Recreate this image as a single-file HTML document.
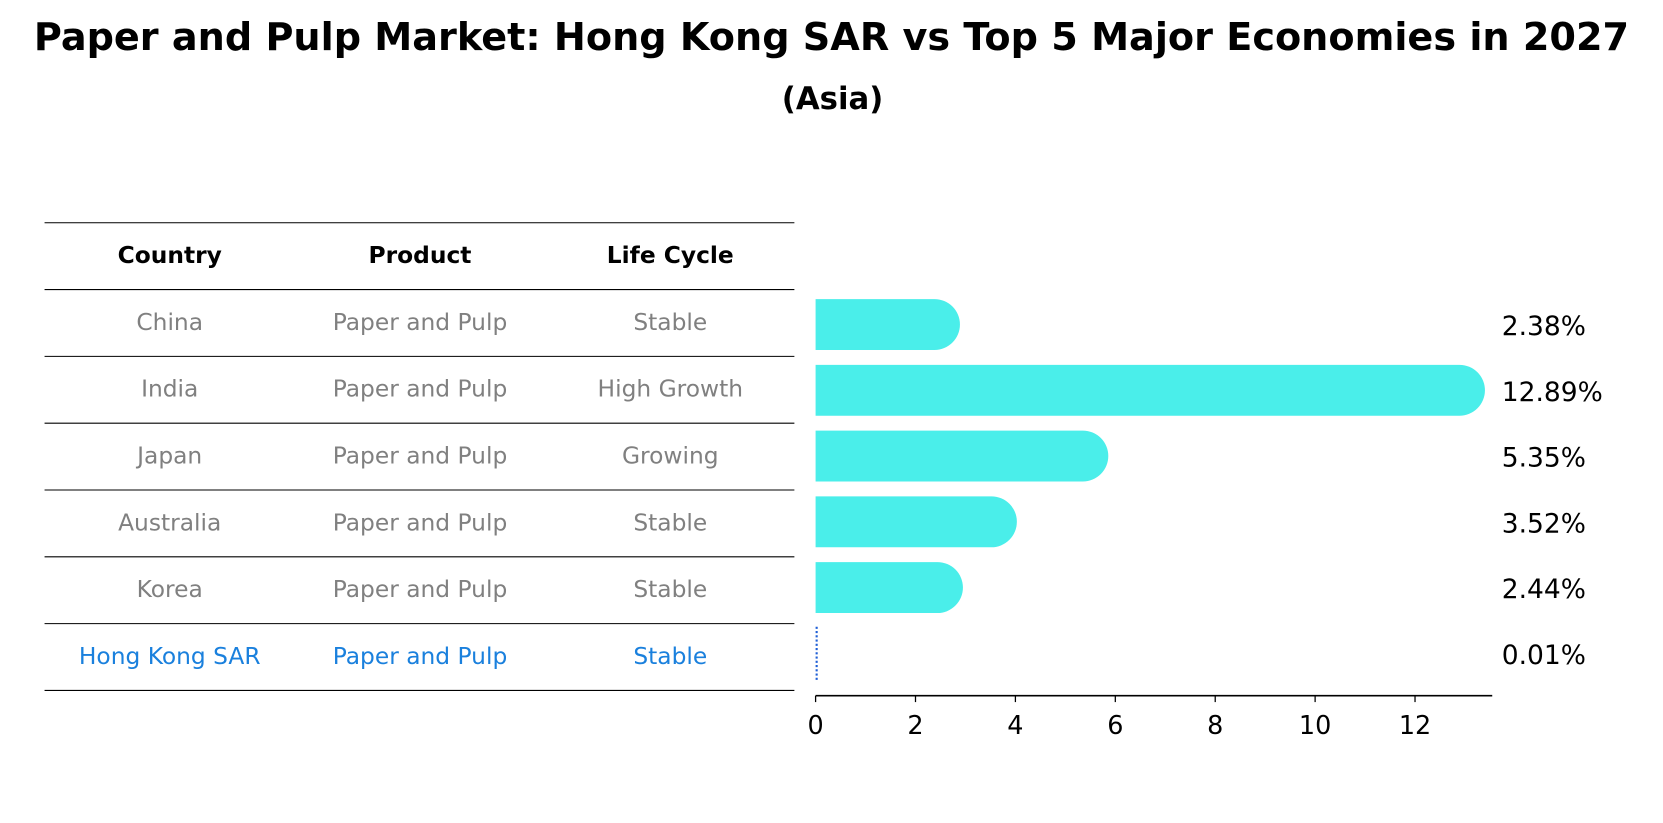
<!DOCTYPE html>
<html><head><meta charset="utf-8"><style>
body{margin:0;background:#fff;font-family:"Liberation Sans","DejaVu Sans",sans-serif;}
svg{display:block}
</style></head><body>
<svg width="1663" height="823" viewBox="0 0 1568 776" xmlns="http://www.w3.org/2000/svg">
<text x="784" y="47" text-anchor="middle" font-size="36" font-weight="bold" font-family="DejaVu Sans, sans-serif">Paper and Pulp Market: Hong Kong SAR vs Top 5 Major Economies in 2027</text>
<text x="785" y="103" text-anchor="middle" font-size="29" font-weight="bold" font-family="DejaVu Sans, sans-serif">(Asia)</text>
<g id="table"></g>
<g id="bars"></g>
</svg>
<script>
const countries=["China","India","Japan","Australia","Korea","Hong Kong SAR"];
const products=["Paper and Pulp","Paper and Pulp","Paper and Pulp","Paper and Pulp","Paper and Pulp","Paper and Pulp"];
const lifeCycles=["Stable","High Growth","Growing","Stable","Stable","Stable"];
const values=[2.38,12.89,5.35,3.52,2.44,0.01];
const ticks=[0,2,4,6,8,10,12];
const NS="http://www.w3.org/2000/svg";
function mk(t,a,p){const e=document.createElementNS(NS,t);for(const k in a)e.setAttribute(k,a[k]);p.appendChild(e);return e;}
const tbl=document.getElementById('table'),bars=document.getElementById('bars');
const x=v=>769+v*47.1;
const rowY=i=>306+i*62.0;
const F="DejaVu Sans, sans-serif";
for(let i=0;i<=7;i++){const y=210+i*63;const l=mk('line',{x1:42,x2:749,y1:y,y2:y,stroke:'#000','stroke-width':1},tbl);

}
const cx=[160,396,632];
["Country","Product","Life Cycle"].forEach((h,j)=>{const t=mk('text',{x:cx[j],y:248,'text-anchor':'middle','font-size':22,'font-weight':'bold','font-family':F},tbl);t.textContent=h;

});
countries.forEach((c,i)=>{const col=i===5?'#1a80dd':'#808080';const y=273+i*63+38;
[c,products[i],lifeCycles[i]].forEach((s,j)=>{const t=mk('text',{x:cx[j],y:y,'text-anchor':'middle','font-size':22,fill:col,'font-family':F},tbl);t.textContent=s;

});});
values.forEach((v,i)=>{const cy=rowY(i);
if(v<0.1){const l=mk('line',{x1:x(0)+1,x2:x(0)+1,y1:cy-25,y2:cy+25,stroke:'#1f5fd6','stroke-width':2,'stroke-dasharray':'2,2'},bars);

}
else{const p=mk('path',{d:`M${x(0)},${cy-24} H${x(v)} A24,24 0 0 1 ${x(v)},${cy+24} H${x(0)} Z`,fill:'#4aeeea'},bars);

}
const t=mk('text',{x:1416,y:cy+10,'font-size':25,'font-family':F},bars);t.textContent=v.toFixed(2)+'%';

});
const ax=mk('line',{x1:769,x2:1407,y1:656,y2:656,stroke:'#000','stroke-width':1.5},bars);


ticks.forEach(v=>{const l=mk('line',{x1:x(v),x2:x(v),y1:656,y2:662,stroke:'#000','stroke-width':1.2},bars);


const t=mk('text',{x:x(v),y:692,'text-anchor':'middle','font-size':24,'font-family':F},bars);t.textContent=v;

});
</script>
</body></html>
